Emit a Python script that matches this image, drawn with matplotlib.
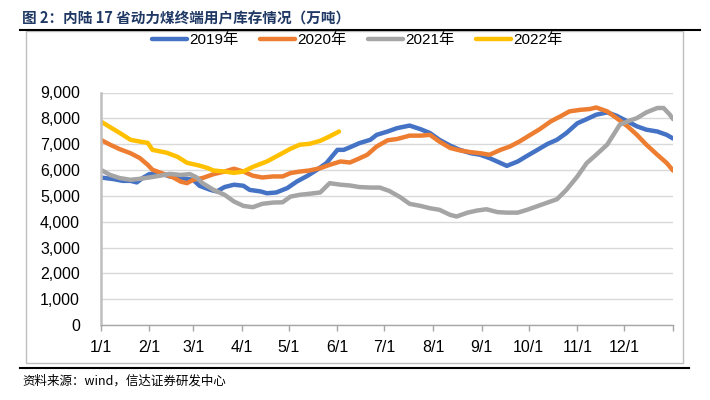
import numpy as np
import matplotlib
matplotlib.use("Agg")
import matplotlib.pyplot as plt
from matplotlib.lines import Line2D
from matplotlib.patches import Rectangle

plt.rcParams['font.family'] = ['Liberation Sans', 'Noto Sans CJK SC', 'DejaVu Sans']

# ---------------------------------------------------------
# data (day of year -> 万吨)
# ---------------------------------------------------------
days_2019 = [0, 8, 14, 19, 23, 27, 31, 38, 44, 51, 59, 63, 70, 74, 79, 85, 91, 95,
             102, 106, 112, 119, 125, 132, 138, 144, 151, 155, 159, 165, 172, 176,
             183, 189, 197, 204, 210, 216, 223, 229, 236, 242, 248, 255, 259, 266,
             272, 278, 285, 291, 297, 304, 310, 316, 323, 329, 336, 342, 348, 355,
             361, 365]
vals_2019 = [5710, 5650, 5580, 5580, 5520, 5700, 5840, 5880, 5750, 5690, 5620, 5390,
             5230, 5170, 5340, 5430, 5390, 5230, 5170, 5100, 5130, 5300, 5550, 5780,
             6010, 6270, 6780, 6780, 6880, 7040, 7170, 7360, 7490, 7620, 7720, 7580,
             7430, 7170, 6940, 6780, 6650, 6590, 6460, 6270, 6160, 6330, 6550, 6760,
             7010, 7170, 7430, 7810, 7970, 8140, 8230, 8100, 7880, 7690, 7560, 7490,
             7360, 7220]

days_2020 = [0, 6, 12, 19, 25, 30, 33, 40, 46, 51, 55, 59, 65, 72, 79, 85, 91, 97,
             103, 110, 116, 121, 127, 133, 140, 146, 153, 159, 165, 170, 176, 183,
             189, 197, 204, 210, 216, 223, 229, 236, 242, 248, 255, 261, 267, 274,
             280, 287, 293, 299, 306, 312, 316, 323, 329, 336, 342, 348, 355, 361,
             365]
vals_2020 = [7170, 6980, 6810, 6650, 6460, 6200, 6010, 5850, 5720, 5550, 5490, 5620,
             5690, 5840, 5940, 6050, 5940, 5780, 5710, 5750, 5750, 5880, 5940, 5980,
             6070, 6200, 6330, 6290, 6450, 6590, 6910, 7150, 7200, 7330, 7330, 7360,
             7100, 6850, 6760, 6690, 6650, 6590, 6780, 6910, 7100, 7360, 7580, 7880,
             8070, 8270, 8330, 8360, 8420, 8270, 8010, 7690, 7360, 6980, 6590, 6270,
             5980]

days_2021 = [0, 6, 12, 19, 25, 31, 38, 44, 51, 57, 61, 65, 72, 79, 85, 91, 97, 103,
             110, 116, 121, 127, 133, 140, 146, 153, 159, 165, 172, 178, 184, 191,
             197, 204, 210, 216, 223, 227, 234, 240, 246, 253, 259, 266, 272, 278,
             285, 291, 297, 304, 310, 316, 323, 327, 331, 336, 342, 348, 355, 359,
             363, 365]
vals_2021 = [6010, 5810, 5690, 5620, 5660, 5710, 5780, 5850, 5810, 5840, 5720, 5490,
             5230, 5040, 4780, 4610, 4560, 4690, 4740, 4750, 4970, 5040, 5080, 5130,
             5490, 5430, 5400, 5340, 5320, 5320, 5190, 4950, 4690, 4610, 4520, 4460,
             4260, 4200, 4350, 4430, 4480, 4370, 4350, 4350, 4460, 4590, 4740, 4870,
             5230, 5750, 6270, 6590, 6980, 7360, 7750, 7880, 8010, 8230, 8400, 8400,
             8140, 7970]

days_2022 = [0, 12, 19, 25, 30, 33, 42, 49, 55, 63, 68, 72, 79, 85, 91, 97, 106,
             114, 121, 127, 133, 140, 146, 152]
vals_2022 = [7880, 7440, 7170, 7100, 7050, 6780, 6670, 6510, 6280, 6170, 6080, 5980,
             5940, 5890, 5940, 6120, 6330, 6590, 6820, 6980, 7010, 7130, 7300, 7490]

series = [("2019年", days_2019, vals_2019, "#4472C4"),
          ("2020年", days_2020, vals_2020, "#ED7D31"),
          ("2021年", days_2021, vals_2021, "#A5A5A5"),
          ("2022年", days_2022, vals_2022, "#FFC000")]

month_starts = [0, 31, 59, 90, 120, 151, 181, 212, 243, 273, 304, 334]
month_labels = ["1/1", "2/1", "3/1", "4/1", "5/1", "6/1", "7/1", "8/1",
                "9/1", "10/1", "11/1", "12/1"]
y_ticks = np.arange(0, 9001, 1000)

title = "图 2：内陆 17 省动力煤终端用户库存情况（万吨）"
source = "资料来源：wind，信达证券研发中心"


def main():
    W, H = 710, 400
    fig = plt.figure(figsize=(W / 100, H / 100), dpi=100)

    # outer grey frame and the two black rules
    fig.add_artist(Rectangle((26 / W, 1 - 363 / H), (683 - 26) / W, (363 - 31) / H,
                             transform=fig.transFigure, fill=False,
                             edgecolor="#BFBFBF", linewidth=1.0))
    fig.add_artist(Line2D([20 / W, 700 / W], [1 - 30 / H, 1 - 30 / H],
                          transform=fig.transFigure, color="black", linewidth=1.5))
    fig.add_artist(Line2D([20 / W, 689 / W], [1 - 368 / H, 1 - 368 / H],
                          transform=fig.transFigure, color="black", linewidth=1.5))

    fig.text(22 / W, 1 - 18 / H, title, ha="left", va="center", fontsize=10.5,
             fontweight="bold", color="#1F3864",
             family=["Noto Sans CJK SC", "DejaVu Sans"])
    fig.text(22 / W, 1 - 381 / H, source, ha="left", va="center", fontsize=9,
             style="italic", color="black",
             family=["Noto Sans CJK SC", "DejaVu Sans"])

    ax = fig.add_axes([100.7 / W, 1 - 325 / H, (673 - 100.7) / W, (325 - 92.5) / H])
    for name, d, v, c in series:
        ax.plot(d, v, color=c, linewidth=3.2, label=name, solid_capstyle="round")

    ax.set_xlim(0, 365)
    ax.set_ylim(0, 9000)
    ax.set_yticks(y_ticks)
    ax.set_yticklabels([f"{t:,}" for t in y_ticks])
    ax.set_xticks(month_starts + [365])
    ax.set_xticklabels(month_labels + [""])
    ax.tick_params(axis="y", length=0, pad=15, labelsize=11.5)
    ax.tick_params(axis="x", length=4, width=1, color="#A6A6A6", pad=7, labelsize=11.5)

    ax.grid(axis="y", color="#D9D9D9", linewidth=1.0)
    ax.set_axisbelow(True)
    for s in ["top", "right"]:
        ax.spines[s].set_visible(False)
    ax.spines["left"].set_color("#BFBFBF")
    ax.spines["left"].set_linewidth(1.8)
    ax.spines["bottom"].set_color("#A6A6A6")
    ax.spines["bottom"].set_linewidth(1.0)

    handles, labels = ax.get_legend_handles_labels()
    fig.legend(handles, labels, loc="center", bbox_to_anchor=(357 / W, 1 - 40 / H),
               ncol=4, frameon=False, handlelength=2.3,
               handletextpad=0.15, columnspacing=1.4,
               prop={"family": ["Liberation Sans", "Noto Sans CJK SC"], "size": 11})

    fig.savefig("out.png", dpi=100)


if __name__ == "__main__":
    main()
